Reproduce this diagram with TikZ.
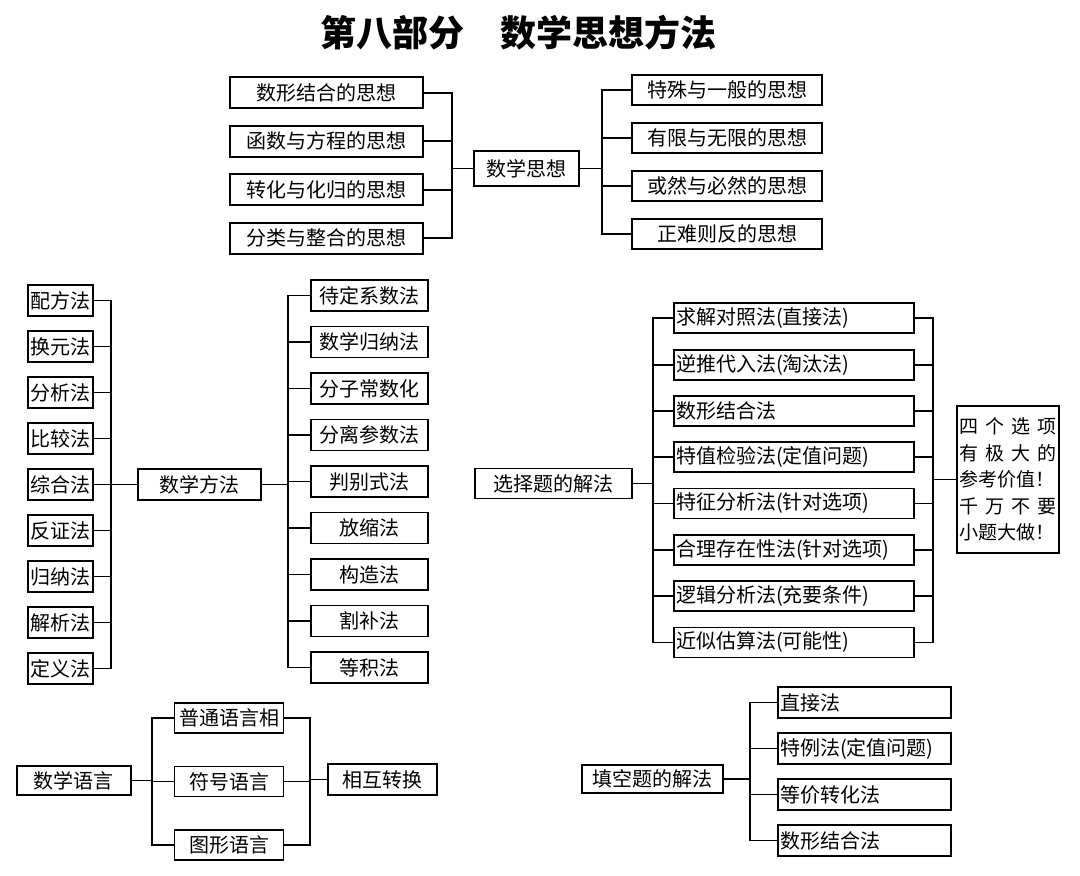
\documentclass[tikz,border=0pt]{standalone}
\usepackage{fontspec}
\setmainfont{Noto Sans CJK SC}

\tikzset{
  box/.style={draw, line width=1.8pt, inner sep=0pt, minimum height=31pt,
              font=\fontsize{20}{24}\selectfont},
  lbox/.style={box, align=left, inner xsep=2pt, text width=#1},
  link/.style={line width=1.8pt, line cap=rect}
}

\begin{document}
\begin{tikzpicture}[x=1pt,y=-1pt]
  \useasboundingbox (0,0) rectangle (1080,876);
  \node[font=\fontsize{36}{40}\selectfont\bfseries] (title) at (518,33) {第八部分　数学思想方法};

  % 数学思想
  \node[box, minimum width=105pt, minimum height=35pt] (sxsx) at (526.5,168.5) {数学思想};
  \coordinate (sxL) at (452,0);
  \coordinate (sxR) at (602,0);
  \foreach \t [count=\i] in {数形结合的思想,函数与方程的思想,转化与化归的思想,分类与整合的思想} {
    \node[box, minimum width=193pt] (sxl\i) at (326.5,44.3+48.5*\i) {\t};
    \draw[link] (sxl\i.east) -- (sxl\i.east -| sxL);
  }
  \foreach \t [count=\i] in {特殊与一般的思想,有限与无限的思想,或然与必然的思想,正难则反的思想} {
    \node[box, minimum width=190pt, minimum height=30pt] (sxr\i) at (727,42+48*\i) {\t};
    \draw[link] (sxr\i.west) -- (sxr\i.west -| sxR);
  }
  \draw[link] (sxl1.east -| sxL) -- (sxl4.east -| sxL);
  \draw[link] (sxr1.west -| sxR) -- (sxr4.west -| sxR);
  \draw[link] (sxsx.west) -- (sxsx.west -| sxL);
  \draw[link] (sxsx.east) -- (sxsx.east -| sxR);

  % 数学方法
  \node[box, minimum width=123pt] (sxff) at (199.5,484.5) {数学方法};
  \coordinate (ffL) at (111,0);
  \coordinate (ffR) at (288,0);
  \foreach \t [count=\i] in {配方法,换元法,分析法,比较法,综合法,反证法,归纳法,解析法,定义法} {
    \node[box, minimum width=65pt] (ffl\i) at (60.5,254.5+46*\i) {\t};
    \draw[link] (ffl\i.east) -- (ffl\i.east -| ffL);
  }
  \foreach \t [count=\i] in {待定系数法,数学归纳法,分子常数化,分离参数法,判别式法,放缩法,构造法,割补法,等积法} {
    \node[box, minimum width=117pt] (ffr\i) at (369.5,249+46.5*\i) {\t};
    \draw[link] (ffr\i.west) -- (ffr\i.west -| ffR);
  }
  \draw[link] (ffl1.east -| ffL) -- (ffl9.east -| ffL);
  \draw[link] (ffr1.west -| ffR) -- (ffr9.west -| ffR);
  \draw[link] (sxff.west) -- (sxff.west -| ffL);
  \draw[link] (sxff.east) -- (sxff.east -| ffR);

  % 选择题
  \node[box, minimum width=157pt, minimum height=30pt] (xzt) at (553.5,483.5) {选择题的解法};
  \coordinate (xzL) at (653,0);
  \coordinate (xzR) at (933,0);
  \node[box, text width=98pt, inner xsep=2pt, minimum height=147pt, align=left,
        font=\fontsize{19}{26.5}\selectfont] (tip) at (1008,479.5)
    {\makebox[98pt]{四\hfill 个\hfill 选\hfill 项}\\
     \makebox[98pt]{有\hfill 极\hfill 大\hfill 的}\\
     参考价值！\\
     \makebox[98pt]{千\hfill 万\hfill 不\hfill 要}\\
     小题大做！};
  \foreach \t [count=\i] in {求解对照法(直接法),逆推代入法(淘汰法),数形结合法,特值检验法(定值问题),
                             特征分析法(针对选项),合理存在性法(针对选项),逻辑分析法(充要条件),近似估算法(可能性)} {
    \node[lbox=236pt, minimum height=30pt] (xz\i) at (794,272+46.3*\i) {\t};
    \draw[link] (xz\i.west) -- (xz\i.west -| xzL);
    \draw[link] (xz\i.east) -- (xz\i.east -| xzR);
  }
  \draw[link] (xz1.west -| xzL) -- (xz8.west -| xzL);
  \draw[link] (xz1.east -| xzR) -- (xz8.east -| xzR);
  \draw[link] (xzt.east) -- (xzt.east -| xzL);
  \draw[link] (tip.west) -- (tip.west -| xzR);

  % 数学语言
  \node[box, minimum width=114pt, minimum height=29pt] (yy) at (74,780.5) {数学语言};
  \node[box, minimum width=109pt] (hzzh) at (382.5,779.5) {相互转换};
  \coordinate (yyL) at (152,0);
  \coordinate (yyR) at (310,0);
  \foreach \t/\y [count=\i] in {普通语言相/718,符号语言/781.5,图形语言/845} {
    \node[box, minimum width=109pt, minimum height=30pt] (yy\i) at (229,\y) {\t};
    \draw[link] (yy\i.west) -- (yy\i.west -| yyL);
    \draw[link] (yy\i.east) -- (yy\i.east -| yyR);
  }
  \draw[link] (yy1.west -| yyL) -- (yy3.west -| yyL);
  \draw[link] (yy1.east -| yyR) -- (yy3.east -| yyR);
  \draw[link] (yy.east) -- (yy.east -| yyL);
  \draw[link] (hzzh.west) -- (hzzh.west -| yyR);

  % 填空题
  \node[box, minimum width=141pt, minimum height=28pt] (tkt) at (652.5,779) {填空题的解法};
  \coordinate (tkL) at (750,0);
  \foreach \t [count=\i] in {直接法,特例法(定值问题),等价转化法,数形结合法} {
    \node[lbox=169pt] (tk\i) at (864.5,656.5+46*\i) {\t};
    \draw[link] (tk\i.west) -- (tk\i.west -| tkL);
  }
  \draw[link] (tk1.west -| tkL) -- (tk4.west -| tkL);
  \draw[link] (tkt.east) -- (tkt.east -| tkL);
\end{tikzpicture}
\end{document}
